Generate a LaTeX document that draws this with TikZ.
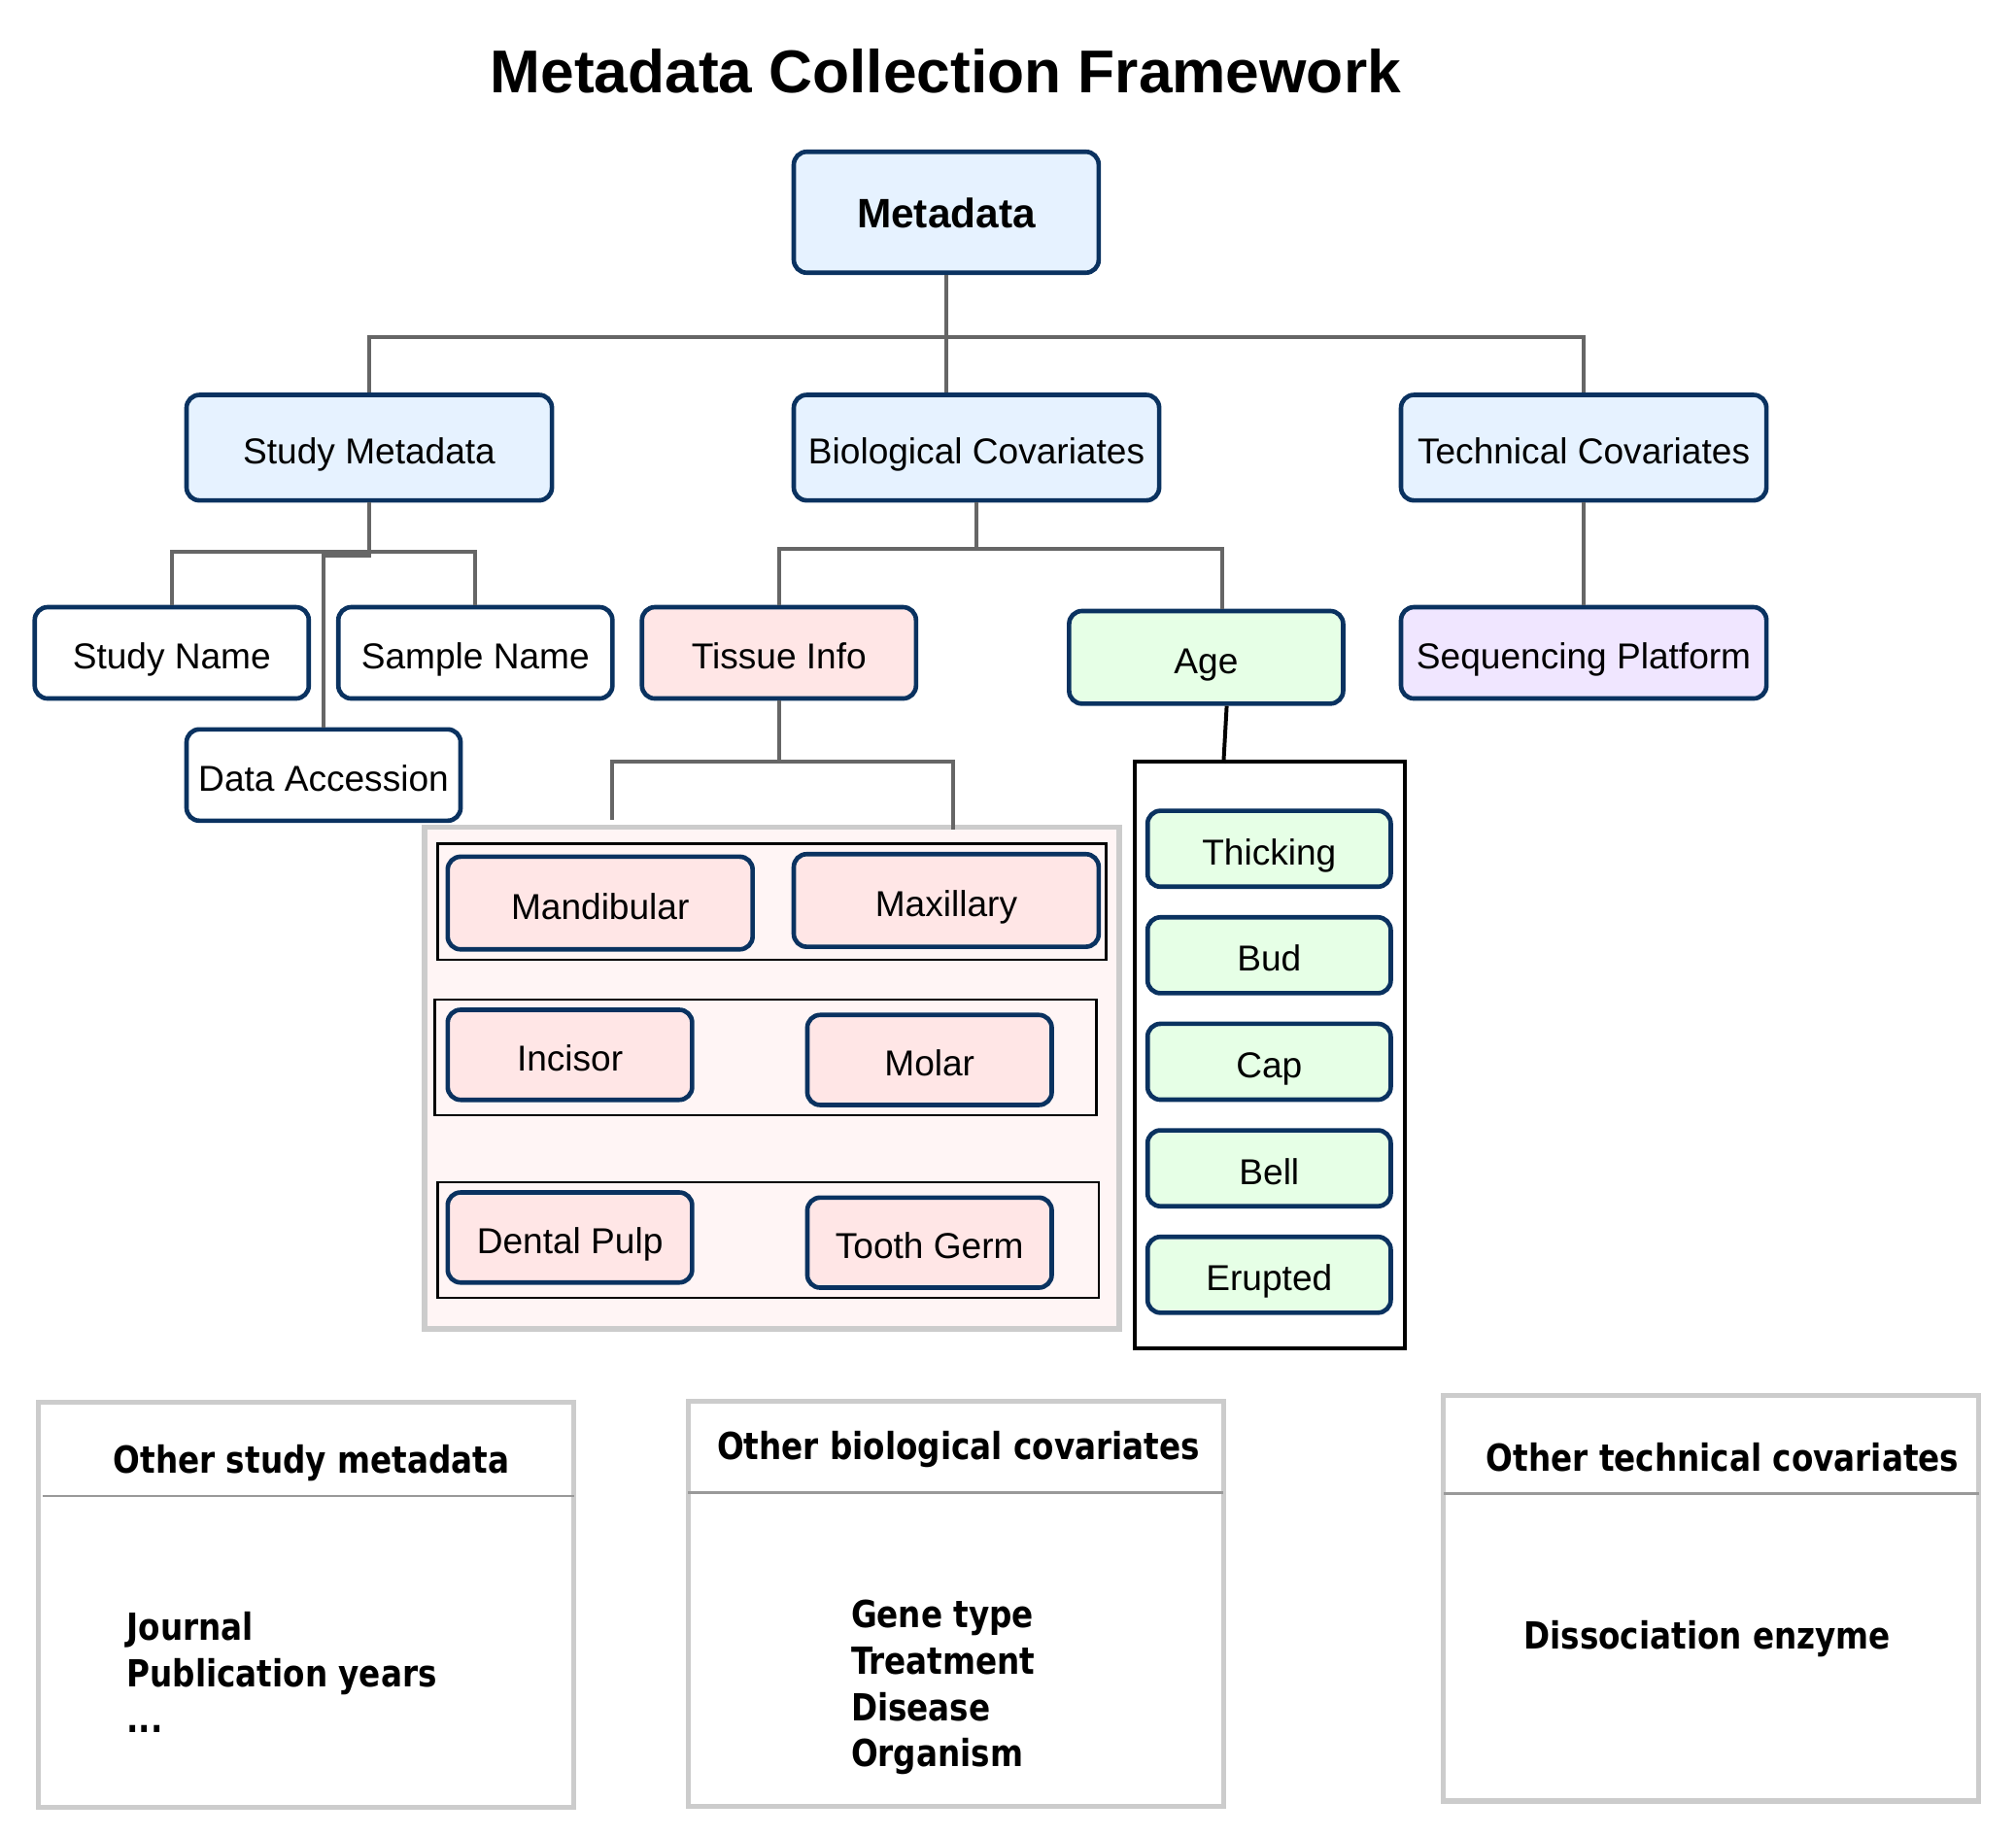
\documentclass[tikz,border=0pt]{standalone}
\usepackage{fontspec}
\setmainfont{Liberation Sans}
\newfontfamily\notefont[FakeStretch=0.85]{DejaVu Sans}
\usetikzlibrary{positioning}

\definecolor{navy}{RGB}{10,50,96}
\definecolor{linkgray}{HTML}{666666}
\definecolor{metablue}{HTML}{E6F2FF}
\definecolor{tissuepink}{HTML}{FFE6E6}
\definecolor{agegreen}{HTML}{E6FFE6}
\definecolor{techpurple}{HTML}{F0E6FF}
\definecolor{groupfill}{HTML}{FFF5F5}
\definecolor{groupline}{HTML}{CCCCCC}
\definecolor{sepgray}{HTML}{999999}

\tikzset{
	item/.style={draw=navy, line width=3.5pt, rounded corners=10pt, inner sep=0pt, text height=31pt, text depth=6pt, font=\fontsize{28}{34}\selectfont},
	wide/.style={item, minimum width=284, minimum height=82},
	leaf/.style={item, minimum width=213, minimum height=71},
	tooth/.style={item, fill=tissuepink, minimum width=190, minimum height=70},
	stage/.style={item, fill=agegreen, minimum width=189, minimum height=59},
	row/.style={draw=black, line width=2pt, minimum width=514, minimum height=90},
	note/.style={draw=groupline, line width=4pt, fill=white, minimum width=416, minimum height=315},
	notetext/.style={font=\notefont\bfseries\fontsize{29}{36}\selectfont},
	link/.style={draw=linkgray, line width=3pt},
	sep/.style={draw=sepgray, line width=2pt}
}

\begin{document}
\begin{tikzpicture}[x=1pt, y=-1pt]
	\useasboundingbox[fill=white] (0,0) rectangle (1567,1427);
	\node[font=\bfseries\fontsize{47}{56}\selectfont] (title) at (735,55) {Metadata Collection Framework};

	\node[item, fill=metablue, minimum width=237, minimum height=94, text height=31pt, text depth=7pt, font=\bfseries\fontsize{32}{38}\selectfont] (meta) at (735.5,165) {Metadata};
	\node[wide, fill=metablue] (study) at (287,348) {Study Metadata};
	\node[wide, fill=metablue] (bio) at (759,348) {Biological Covariates};
	\node[wide, fill=metablue] (tech) at (1231,348) {Technical Covariates};

	\node[leaf, fill=white] (sname) at (133.5,507.5) {Study Name};
	\node[leaf, fill=white] (sample) at (369.5,507.5) {Sample Name};
	\node[leaf, fill=white] (access) at (251.5,602.5) {Data Accession};
	\node[leaf, fill=tissuepink] (tissue) at (605.5,507.5) {Tissue Info};
	\node[leaf, fill=agegreen, minimum height=72] (age) at (937.5,511) {Age};
	\node[wide, fill=techpurple, minimum height=71] (seq) at (1231,507.5) {Sequencing Platform};

	\node[draw=groupline, fill=groupfill, line width=4pt, minimum width=540, minimum height=390] (tissuebox) at (600,838) {};
	\node[row, minimum width=520] (jaw) at (600,701) {};
	\node[row] (kind) at (595,822) {};
	\node[row] (part) at (597,964) {};
	\node[tooth, minimum width=237, minimum height=72] (mand) at (466.5,702) {Mandibular};
	\node[tooth, minimum width=237, minimum height=72] (maxi) at (735.5,700) {Maxillary};
	\node[tooth] (incisor) at (443,820) {Incisor};
	\node[tooth] (molar) at (722.5,824) {Molar};
	\node[tooth] (pulp) at (443,962) {Dental Pulp};
	\node[tooth] (germ) at (722.5,966) {Tooth Germ};

	\node[draw=black, fill=white, line width=3pt, minimum width=210, minimum height=456] (agebox) at (987,820) {};
	\foreach \name [count=\i] in {Thicking,Bud,Cap,Bell,Erupted}
		\node[stage] (stage\i) at (986.5,577+82.8*\i) {\name};

	\coordinate (mandtop) at (476,637);
	\coordinate (maxtop) at (741,645);

	\draw[link] (meta.south) -- (meta.south |- bio.north);
	\draw[link] (meta.south) -- ++(0,48) -| (study.north);
	\draw[link] (meta.south) -- ++(0,48) -| (tech.north);
	\draw[link] (study.south) -- ++(0,38) -| (sname.north);
	\draw[link] (study.south) -- ++(0,38) -| (sample.north);
	\draw[link] (study.south) -- ++(0,41) -| (access.north);
	\draw[link] (bio.south) -- ++(0,36) -| (tissue.north);
	\draw[link] (bio.south) -- ++(0,36) -| ([xshift=12.5pt]age.north);
	\draw[link] (tech.south) -- (seq.north);
	\draw[link] (tissue.south) -- ++(0,47) -| (mandtop);
	\draw[link] (tissue.south) -- ++(0,47) -| (maxtop);
	\draw[black, line width=3pt] ([xshift=16pt]age.south) -- ([xshift=-36pt, yshift=-3pt]agebox.north);

	\node[note] (studynote) at (238,1247.5) {};
	\node[note] (bionote) at (743,1247) {};
	\node[note] (technote) at (1330,1242.5) {};
	\draw[sep] ([xshift=5pt, yshift=-75pt]studynote.north west) -- ([xshift=-2pt, yshift=-75pt]studynote.north east);
	\draw[sep] ([xshift=2pt, yshift=-73pt]bionote.north west) -- ([xshift=-2pt, yshift=-73pt]bionote.north east);
	\draw[sep] ([xshift=2pt, yshift=-78pt]technote.north west) -- ([xshift=-2pt, yshift=-78pt]technote.north east);
	\node[notetext] (studyhead) at (242,1137) {Other study metadata};
	\node[notetext] (biohead) at (745,1127) {Other biological covariates};
	\node[notetext] (techhead) at (1339,1133) {Other technical covariates};
	\node[notetext, align=left, anchor=west] (studylist) at (95,1300) {Journal\\Publication years\\...};
	\node[notetext, align=left, anchor=west] (biolist) at (658,1312) {Gene type\\Treatment\\Disease\\Organism};
	\node[notetext] (techlist) at (1327,1274) {Dissociation enzyme};
\end{tikzpicture}
\end{document}
